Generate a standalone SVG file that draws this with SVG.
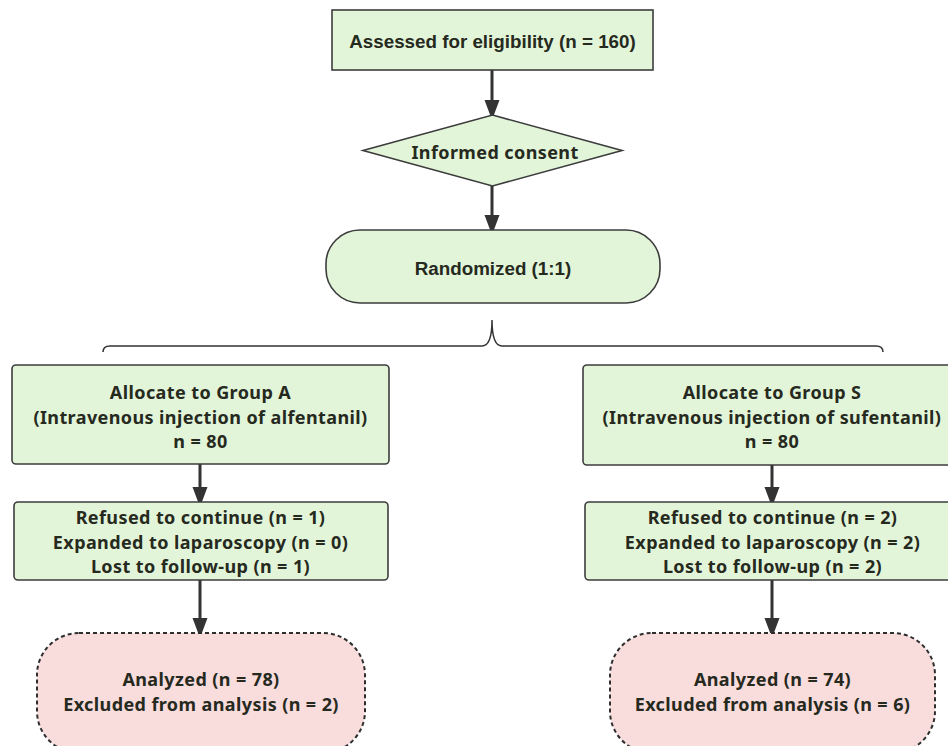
<svg xmlns="http://www.w3.org/2000/svg" width="948" height="746" viewBox="0 0 948 746">
<defs>
<style>
.g{fill:#e3f5d9;stroke:#3c3c3c;stroke-width:1.6}
.p{fill:#f9dcdc;stroke:#2e2e2e;stroke-width:2;stroke-dasharray:4 3}
.t1{font-family:"Liberation Sans",Arial,sans-serif;font-weight:bold;font-size:18.8px;fill:#262a1e;text-anchor:middle;dominant-baseline:central}
.t2{font-family:"Noto Sans","Open Sans",sans-serif;font-weight:bold;font-size:18px;letter-spacing:0.4px;fill:#262a1e;text-anchor:middle;dominant-baseline:central}
.c{stroke:#333;stroke-width:3;fill:none}
</style>
<marker id="ah" viewBox="0 0 15 20" refX="15" refY="7.5" markerWidth="15" markerHeight="20" markerUnits="userSpaceOnUse" orient="auto">
<path d="M0,0 L20,7.5 L0,15 Z" fill="#333"/>
</marker>
</defs>
<rect width="948" height="746" fill="#ffffff"/>
<g id="connectors">
<line class="c" x1="492" y1="70" x2="492" y2="115" marker-end="url(#ah)"/>
<line class="c" x1="492" y1="186" x2="492" y2="230" marker-end="url(#ah)"/>
<line class="c" x1="200" y1="464" x2="200" y2="502" marker-end="url(#ah)"/>
<line class="c" x1="772" y1="465" x2="772" y2="502" marker-end="url(#ah)"/>
<line class="c" x1="200" y1="580" x2="200" y2="633" marker-end="url(#ah)"/>
<line class="c" x1="772" y1="580" x2="772" y2="633" marker-end="url(#ah)"/>
<path d="M103,352 Q103,346 110,346 L482,346 Q492,346 492,320 Q492,346 502,346 L876,346 Q883,346 883,352" fill="none" stroke="#333" stroke-width="1.5"/>
</g>
<g id="assessed">
<rect class="g" x="332" y="10" width="321" height="60"/>
<text class="t1" x="492.5" y="41">Assessed for eligibility (n = 160)</text>
</g>
<g id="consent">
<polygon class="g" points="492.5,115 622,150.5 492.5,186 363,150.5"/>
<text class="t2" x="495" y="151.5">Informed consent</text>
</g>
<g id="randomized">
<rect class="g" x="326" y="230" width="334" height="73" rx="34" ry="34"/>
<text class="t1" x="493" y="268">Randomized (1:1)</text>
</g>
<g id="groupA">
<rect class="g" x="12" y="365" width="377" height="99" rx="4"/>
<text class="t2" x="200.5" y="391.9">Allocate to Group A</text>
<text class="t2" x="200.5" y="416.5">(Intravenous injection of alfentanil)</text>
<text class="t2" x="200.5" y="441.1">n = 80</text>
</g>
<g id="groupS">
<rect class="g" x="583" y="365" width="378" height="100" rx="4"/>
<text class="t2" x="772" y="391.9">Allocate to Group S</text>
<text class="t2" x="772" y="416.5">(Intravenous injection of sufentanil)</text>
<text class="t2" x="772" y="441.1">n = 80</text>
</g>
<g id="lossA">
<rect class="g" x="14" y="502" width="374" height="78" rx="4"/>
<text class="t2" x="200.5" y="516.9">Refused to continue (n = 1)</text>
<text class="t2" x="200.5" y="541.5">Expanded to laparoscopy (n = 0)</text>
<text class="t2" x="200.5" y="566.1">Lost to follow-up (n = 1)</text>
</g>
<g id="lossS">
<rect class="g" x="585" y="502" width="376" height="78" rx="4"/>
<text class="t2" x="772.5" y="516.9">Refused to continue (n = 2)</text>
<text class="t2" x="772.5" y="541.5">Expanded to laparoscopy (n = 2)</text>
<text class="t2" x="772.5" y="566.1">Lost to follow-up (n = 2)</text>
</g>
<g id="analyzedA">
<rect class="p" x="37" y="633" width="328" height="120" rx="42"/>
<text class="t2" x="201" y="679.2">Analyzed (n = 78)</text>
<text class="t2" x="201" y="703.8">Excluded from analysis (n = 2)</text>
</g>
<g id="analyzedS">
<rect class="p" x="610" y="633" width="325" height="120" rx="42"/>
<text class="t2" x="772.5" y="679.2">Analyzed (n = 74)</text>
<text class="t2" x="772.5" y="703.8">Excluded from analysis (n = 6)</text>
</g>
</svg>
